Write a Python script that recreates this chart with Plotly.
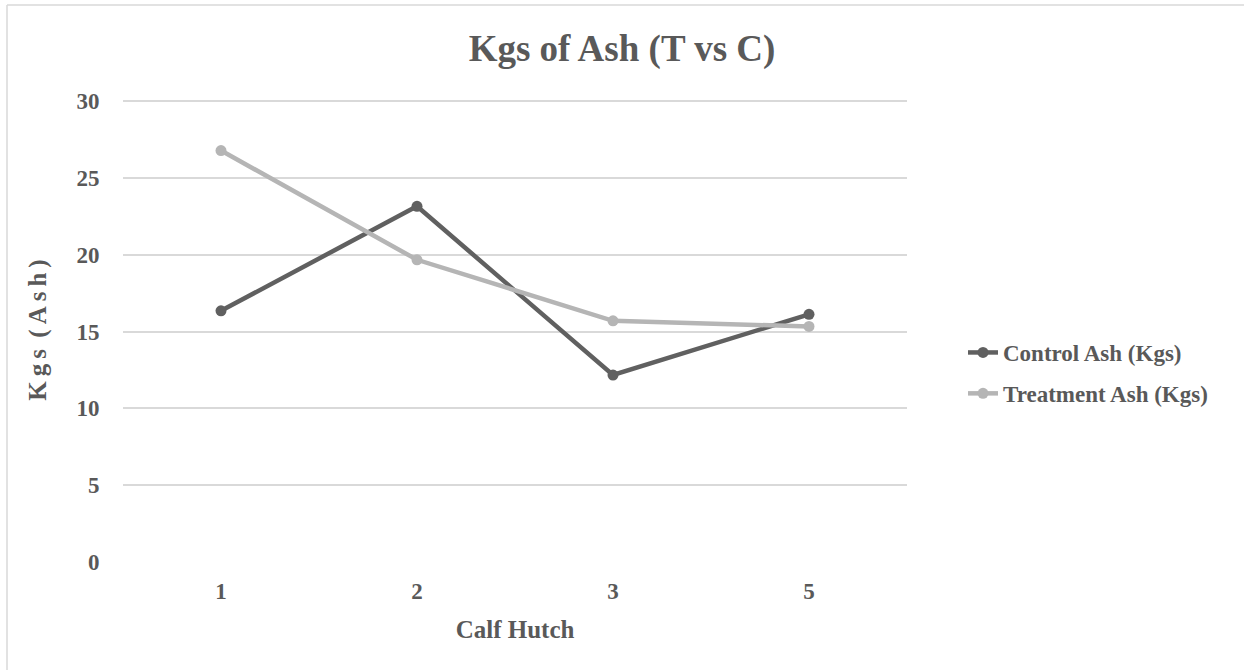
import plotly.graph_objects as go

categories = ["1", "2", "3", "5"]
control_ash = [16.35, 23.15, 12.17, 16.12]
treatment_ash = [26.78, 19.67, 15.70, 15.33]
y_ticks = [0, 5, 10, 15, 20, 25, 30]

TEXT = "#595959"
FONT = "Liberation Serif"
TS = "\u2009"  # thin space used to mimic the letter-spaced vertical title

fig = go.Figure()
fig.add_trace(go.Scatter(
    x=categories, y=control_ash, name="<b>Control Ash (Kgs)</b>",
    mode="lines+markers", legendgroup="c",
    line=dict(color="#606060", width=4.5),
    marker=dict(color="#606060", size=11),
))
fig.add_trace(go.Scatter(
    x=categories, y=treatment_ash, name="<b>Treatment Ash (Kgs)</b>",
    mode="lines+markers", legendgroup="t",
    line=dict(color="#b5b5b5", width=4.5),
    marker=dict(color="#b5b5b5", size=11),
))

y_title = TS.join(["K", "g", "s", " (", "A", "s", "h", ")"])

fig.update_layout(
    width=1244, height=670,
    margin=dict(l=123, r=337, t=98, b=108),
    paper_bgcolor="white", plot_bgcolor="white",
    font=dict(family=FONT, color=TEXT, size=23),
    title=dict(text="<b>Kgs of Ash (T vs C)</b>", x=0.5, xref="container",
               xanchor="center", y=1 - 48 / 670, yanchor="middle",
               font=dict(size=37, color=TEXT, family=FONT)),
    xaxis=dict(
        type="category", range=[-0.5, 3.5],
        showgrid=False, zeroline=False, showline=False,
        ticks="outside", ticklen=8, tickcolor="rgba(0,0,0,0)",
        tickmode="array", tickvals=categories,
        ticktext=[f"<b>{c}</b>" for c in categories],
        tickfont=dict(size=23, color=TEXT, family=FONT),
        title=dict(text="<b>Calf Hutch</b>", standoff=17,
                   font=dict(size=25, color=TEXT, family=FONT)),
    ),
    yaxis=dict(
        range=[0, 30.2], tickmode="array", tickvals=y_ticks,
        ticktext=[f"<b>{v}</b>" for v in y_ticks],
        showgrid=True, gridcolor="#d9d9d9", gridwidth=1.5,
        zeroline=False, showline=False,
        ticks="outside", ticklen=18, tickcolor="rgba(0,0,0,0)",
        tickfont=dict(size=23, color=TEXT, family=FONT),
        title=dict(text=f"<b>{y_title}</b>", standoff=22,
                   font=dict(size=25, color=TEXT, family=FONT)),
    ),
    legend=dict(
        x=(963 - 123) / 784, xanchor="left",
        y=(564 - 375) / 464, yanchor="middle",
        font=dict(size=23, color=TEXT, family=FONT),
        bgcolor="rgba(0,0,0,0)", traceorder="grouped", tracegroupgap=8,
        itemwidth=30,
    ),
    showlegend=True,
)

# outer chart border (top and left edges visible in the frame)
H = 464
fig.add_shape(type="line", xref="paper", yref="paper",
              x0=(7 - 123) / 784, x1=(1260 - 123) / 784,
              y0=(562 - 5) / H, y1=(562 - 5) / H,
              line=dict(color="#d9d9d9", width=1.5))
fig.add_shape(type="line", xref="paper", yref="paper",
              x0=(7 - 123) / 784, x1=(7 - 123) / 784,
              y0=(562 - 5) / H, y1=(562 - 690) / H,
              line=dict(color="#d9d9d9", width=1.5))

fig.write_html("out.html")
